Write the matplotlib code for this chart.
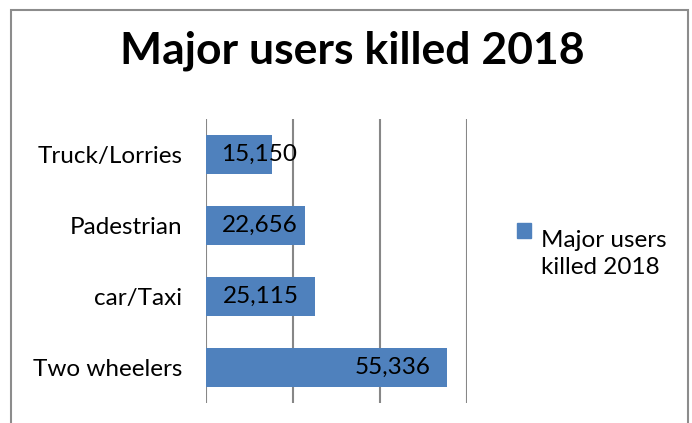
import matplotlib
matplotlib.use("Agg")
import matplotlib.pyplot as plt
from matplotlib.patches import Rectangle, Patch

categories = ["Two wheelers", "car/Taxi", "Padestrian", "Truck/Lorries"]
killed = [55336, 25115, 22656, 15150]
series_name = "Major users\nkilled 2018"
title = "Major users killed 2018"

bar_color = "#4F81BD"
grid_color = "#878787"
plt.rcParams["font.family"] = ["Lato", "DejaVu Sans"]

W, H = 692, 423
fig = plt.figure(figsize=(W / 100, H / 100), dpi=100)

# outer chart frame (bottom edge runs off the picture)
fig.patches.append(Rectangle((11 / W, -0.05), 677 / W, 1.05 - 10 / H,
                             transform=fig.transFigure, fill=False,
                             edgecolor="#8c8c8c", linewidth=1.5))

ax = fig.add_axes([206 / W, 20 / H, 261 / W, 284 / H])
ax.barh(range(len(categories)), killed, height=0.56, color=bar_color, zorder=2)
ax.set_xlim(0, 60000)
ax.set_ylim(-0.5, len(categories) - 0.5)
ax.set_xticks([0, 20000, 40000, 60000])
ax.xaxis.grid(True, color=grid_color, linewidth=1.5, zorder=0)
ax.tick_params(axis="x", length=0, labelbottom=False)
ax.tick_params(axis="y", length=0, pad=17, labelsize=17.5)
ax.set_yticks(range(len(categories)))
ax.set_yticklabels(categories)
for s in ax.spines.values():
    s.set_visible(False)

for i, v in enumerate(killed):
    ax.text(max(v - 3700, 21000), i, f"{v:,}", ha="right", va="center",
            fontsize=17.5, color="black", zorder=3)

fig.text(352 / W, 1 - 51 / H, title, ha="center", va="center",
         fontsize=32, fontweight="bold")

leg = fig.legend(handles=[Patch(color=bar_color, label=series_name)],
                 loc="center left", bbox_to_anchor=(495 / W, 1 - 254 / H),
                 frameon=False, fontsize=17.5, handlelength=0.6,
                 handleheight=0.6, handletextpad=0.4)
for t in leg.get_texts():
    t.set_linespacing(1.4)
# keep the square beside the first line of the label
leg.legend_handles[0].set_y(leg.legend_handles[0].get_y() + 17)

fig.savefig("out.png", dpi=100)
